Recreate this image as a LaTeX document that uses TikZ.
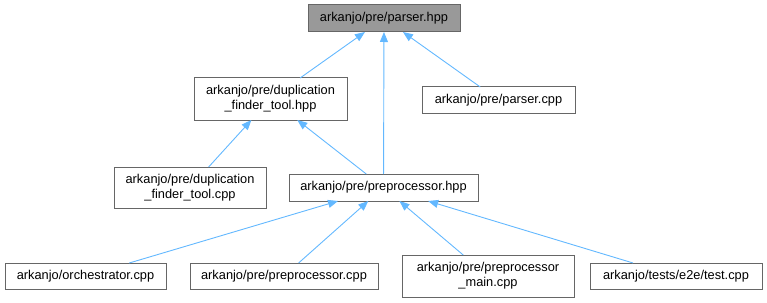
\documentclass[tikz,border=0pt]{standalone}
\usepackage{fontspec}
\setmainfont{Liberation Sans}
\usetikzlibrary{arrows.meta}
\definecolor{boxline}{HTML}{666666}
\definecolor{rootfill}{HTML}{999999}
\definecolor{edgeblue}{HTML}{63B8FF}
\tikzset{
  filebox/.style={draw=boxline, line width=1pt, fill=white, inner sep=0pt, outer sep=0pt,
    align=center, font=\fontsize{12.8}{15}\selectfont},
  rootbox/.style={filebox, fill=rootfill},
  dep/.style={draw=edgeblue, line width=0.9pt,
    {Triangle[length=10pt,width=8pt,fill=edgeblue]}-},
}
\begin{document}
\begin{tikzpicture}[x=1pt,y=-1pt]
\useasboundingbox (0,0) rectangle (767,302);
% header and the files that include it
\node[rootbox, minimum width=152, minimum height=27] (ph) at (384,18.5) {arkanjo/pre/parser.hpp};
\node[filebox, minimum width=153, minimum height=42] (dh) at (270.5,99) {arkanjo/pre/duplication\\\_finder\_tool.hpp};
\node[filebox, minimum width=153, minimum height=26] (pc) at (498.5,100) {arkanjo/pre/parser.cpp};
\node[filebox, minimum width=152, minimum height=41] (dc) at (190,187.5) {arkanjo/pre/duplication\\\_finder\_tool.cpp};
\node[filebox, minimum width=189, minimum height=27] (pph) at (383.5,187.5) {arkanjo/pre/preprocessor.hpp};
\node[filebox, minimum width=161, minimum height=26] (oc) at (85.5,276) {arkanjo/orchestrator.cpp};
\node[filebox, minimum width=188, minimum height=26] (pc2) at (284,276) {arkanjo/pre/preprocessor.cpp};
\node[filebox, minimum width=172, minimum height=42] (pm) at (488,276) {arkanjo/pre/preprocessor\\\_main.cpp};
\node[filebox, minimum width=172, minimum height=26] (tc) at (676,276) {arkanjo/tests/e2e/test.cpp};
% include edges, arrowhead at the included file
\draw[dep] (ph) -- (dh);
\draw[dep] (ph) -- (pph);
\draw[dep] (ph) -- (pc);
\draw[dep] (dh) -- (dc);
\draw[dep] (dh) -- (pph);
\draw[dep] (pph) -- (oc);
\draw[dep] (pph) -- (pc2);
\draw[dep] (pph) -- (pm);
\draw[dep] (pph) -- (tc);
\end{tikzpicture}
\end{document}
